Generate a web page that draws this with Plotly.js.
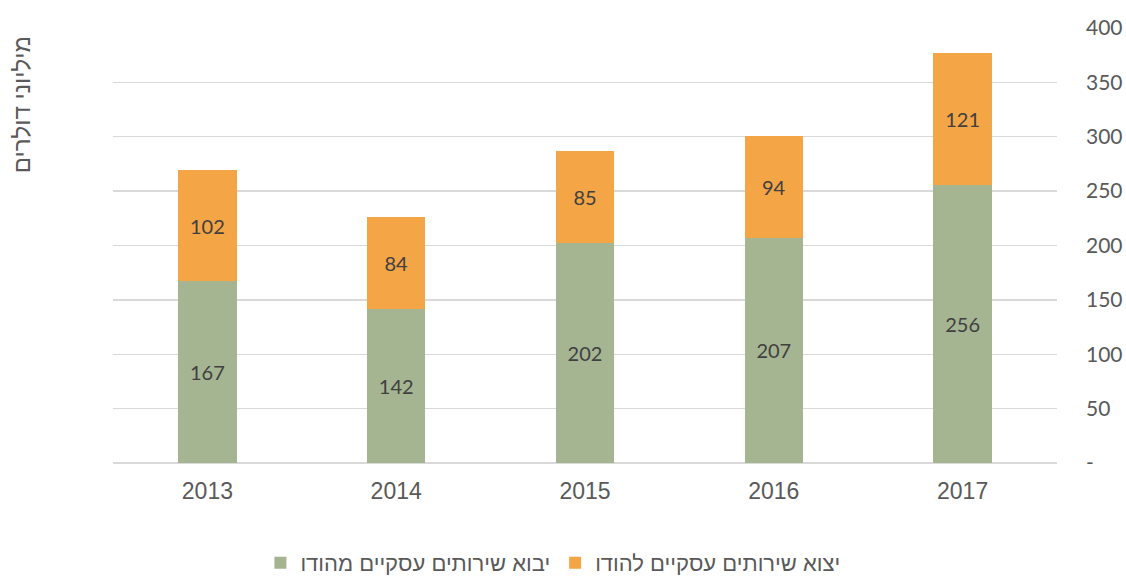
<!DOCTYPE html>
<html>
<head>
<meta charset="utf-8">
<script src="https://cdn.plot.ly/plotly-3.0.1.min.js"></script>
<style>html,body{margin:0;padding:0;background:#fff;}#chart{width:1126px;height:584px;}</style>
</head>
<body>
<div id="chart"></div>
<script>
const years = ['2013', '2014', '2015', '2016', '2017'];
const importFromIndia = [167, 142, 202, 207, 256];
const exportToIndia = [102, 84, 85, 94, 121];
const seriesNames = ['יבוא שירותים עסקיים מהודו', 'יצוא שירותים עסקיים להודו'];
const yTickVals = [0, 50, 100, 150, 200, 250, 300, 350, 400];
const yTickText = ['-', '50', '100', '150', '200', '250', '300', '350', '400'];
const yTitle = 'מיליוני דולרים';

const font = 'Liberation Sans, Arial, sans-serif';
const numFont = 'Lato, Liberation Sans, sans-serif';
const traces = [
  {
    type: 'bar', x: years, y: importFromIndia, name: seriesNames[0],
    marker: {color: '#A5B592'},
    text: importFromIndia.map(String), textposition: 'inside', insidetextanchor: 'middle',
    textfont: {family: numFont, size: 20, color: '#404040'}, hoverinfo: 'y'
  },
  {
    type: 'bar', x: years, y: exportToIndia, name: seriesNames[1],
    marker: {color: '#F4A546'},
    text: exportToIndia.map(String), textposition: 'inside', insidetextanchor: 'middle',
    textfont: {family: numFont, size: 20, color: '#404040'}, hoverinfo: 'y'
  }
];
const layout = {
  width: 1126, height: 584,
  barmode: 'stack', bargap: 0.69,
  margin: {l: 113, r: 69, t: 28, b: 121},
  paper_bgcolor: '#fff', plot_bgcolor: '#fff',
  font: {family: font, color: '#595959', size: 17},
  xaxis: {type: 'category', showgrid: false, showline: false, ticks: '',
    tickfont: {family: font, size: 23, color: '#595959'}, ticklabelstandoff: 12},
  yaxis: {
    side: 'right', range: [0, 400], tickvals: yTickVals, ticktext: yTickText,
    showgrid: true, gridcolor: '#D9D9D9', gridwidth: 1.3, zeroline: true, zerolinecolor: '#D9D9D9', zerolinewidth: 1.3,
    tickfont: {family: numFont, size: 21, color: '#595959'}, ticklabelstandoff: 28
  },
  showlegend: true,
  legend: {orientation: 'h', x: 0.466, xanchor: 'center', xref: 'paper',
    y: -0.016, yanchor: 'bottom', yref: 'container',
    font: {family: font, size: 22, color: '#595959'}, traceorder: 'normal'},
  annotations: [{
    text: yTitle, xref: 'paper', yref: 'paper', x: -0.096, y: 0.823, textangle: -90,
    showarrow: false, font: {family: font, size: 24, color: '#595959'}, xanchor: 'center', yanchor: 'middle'
  }]
};
Plotly.newPlot('chart', traces, layout, {displayModeBar: false, staticPlot: true});
</script>
</body>
</html>
